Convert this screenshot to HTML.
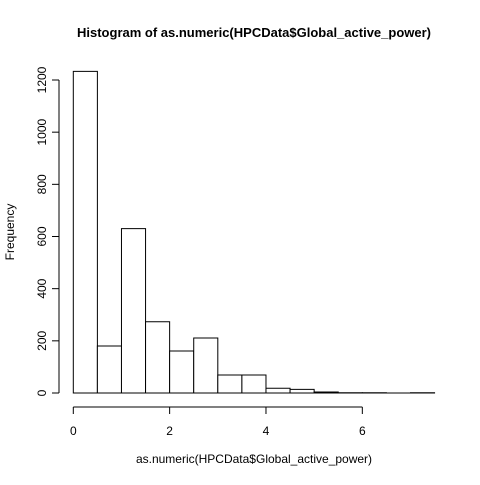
<!DOCTYPE html>
<html><head><meta charset="utf-8"><style>
body{margin:0;background:#fff}
svg text{font-family:"Liberation Sans",Arial,sans-serif;fill:#000}
</style></head><body>
<svg width="480" height="480" id="c">
<text x="254" y="37" font-size="13" font-weight="bold" text-anchor="middle">Histogram of as.numeric(HPCData$Global_active_power)</text>
<text x="254" y="463" font-size="12" text-anchor="middle">as.numeric(HPCData$Global_active_power)</text>
<text x="0" y="0" font-size="12" text-anchor="middle" transform="translate(14,232) rotate(-90)">Frequency</text>
<g id="bars"></g>
<g id="axes"></g>
</svg>
<script>
const binStarts=[0,0.5,1,1.5,2,2.5,3,3.5,4,4.5,5,5.5,6,6.5,7];
const counts=[1233,180,630,273,161,211,69,69,18,14,4,1,1,0,1];
const binWidth=0.5;
const xTicks=[0,2,4,6];
const yTicks=[0,200,400,600,800,1000,1200];
const NS="http://www.w3.org/2000/svg";
const X=v=>73.3+v*48.17;
const Y=v=>393-v*(313/1200);
function mk(t,a,p){const e=document.createElementNS(NS,t);for(const k in a)e.setAttribute(k,a[k]);p.appendChild(e);return e;}
const bars=document.getElementById('bars'),axes=document.getElementById('axes');
binStarts.forEach((s,i)=>{
 const x0=X(s),x1=X(s+binWidth),y0=Y(0),y1=Y(counts[i]);
 const r=mk('path',{d:`M${x0},${y0}L${x0},${y1}L${x1},${y1}L${x1},${y0}Z`,fill:'#fff',stroke:'#000','stroke-width':1},bars);
 
 
});
mk('line',{x1:X(xTicks[0]),x2:X(xTicks[xTicks.length-1]),y1:407,y2:407,stroke:'#000'},axes);
xTicks.forEach(t=>{
 mk('line',{x1:X(t),x2:X(t),y1:407,y2:414,stroke:'#000'},axes);
 const tx=mk('text',{x:X(t),y:435,'font-size':12,'text-anchor':'middle'},axes);tx.textContent=t;
 
 
});
mk('line',{x1:59,x2:59,y1:Y(yTicks[0]),y2:Y(yTicks[yTicks.length-1]),stroke:'#000'},axes);
yTicks.forEach(t=>{
 mk('line',{x1:52,x2:59,y1:Y(t),y2:Y(t),stroke:'#000'},axes);
 const tx=mk('text',{x:0,y:0,'font-size':12,'text-anchor':'middle',transform:`translate(46,${Y(t)}) rotate(-90)`},axes);tx.textContent=t;
 
 
});
</script>
</body></html>
